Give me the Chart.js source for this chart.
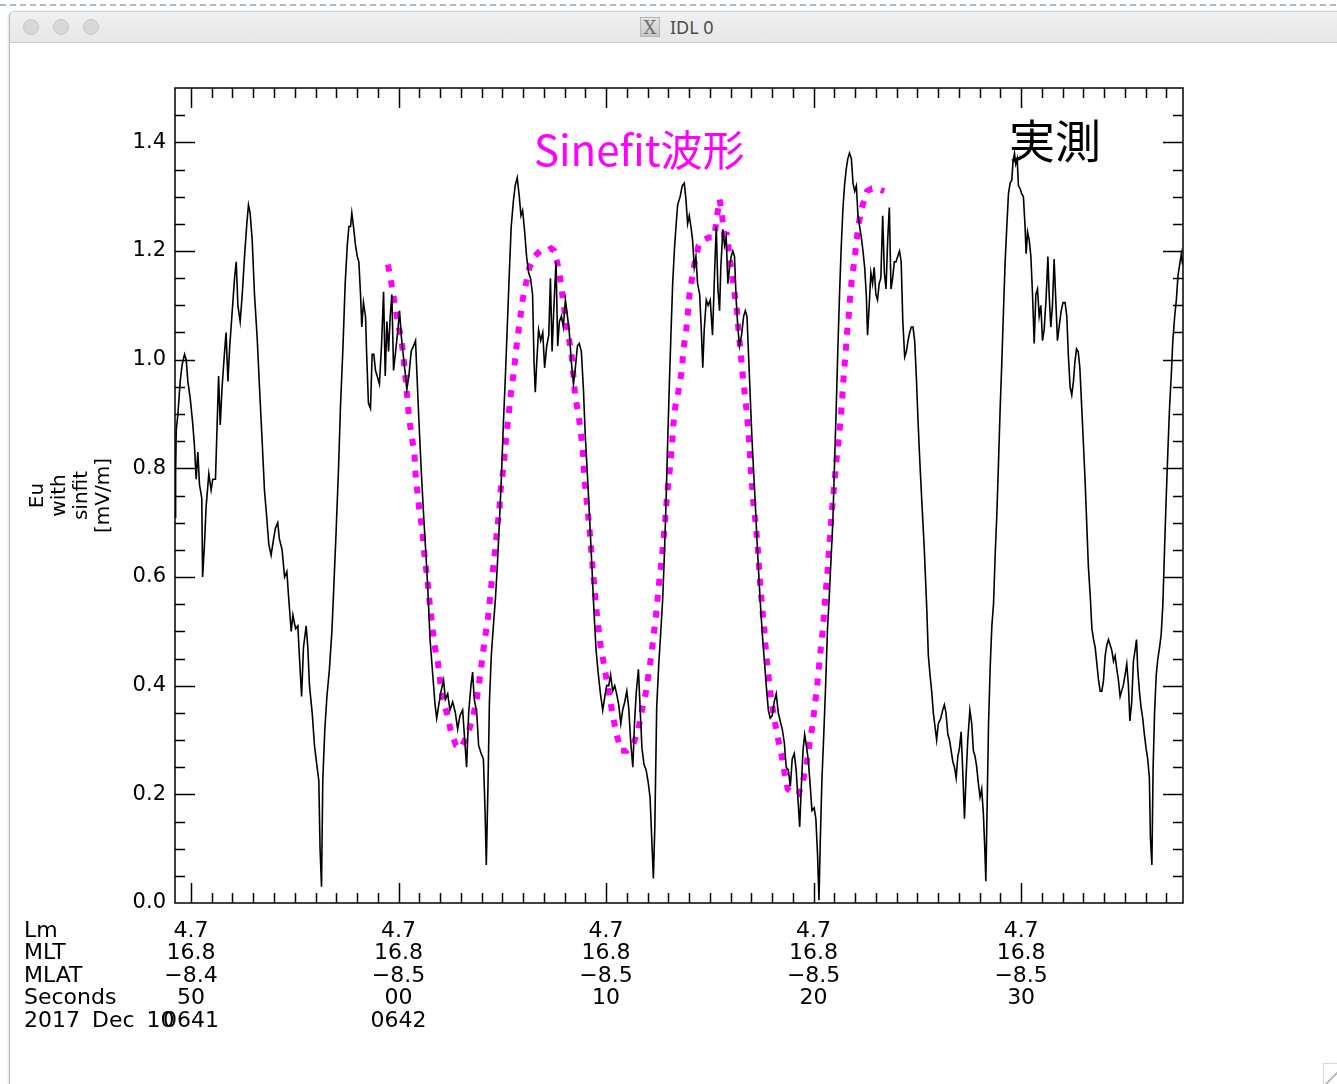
<!DOCTYPE html>
<html>
<head>
<meta charset="utf-8">
<title>IDL 0</title>
<script src="https://cdn.jsdelivr.net/npm/chart.js@4.4.1/dist/chart.umd.min.js"></script>
<style>
  html, body { margin: 0; padding: 0; }
  body { width: 1337px; height: 1084px; overflow: hidden; background: #fff; position: relative; }
  #dash { position: absolute; left: 0; top: 4px; width: 1337px; height: 2px;
    background: repeating-linear-gradient(90deg, #a9bccd 0 6px, transparent 6px 10px); }
  #win { position: absolute; left: 9px; top: 11px; width: 1340px; height: 1090px;
    border-left: 1px solid #b9b9b9; border-top: 1px solid #d0d0d0; border-top-left-radius: 6px;
    background: #fff; box-shadow: -1px 0 2px rgba(0,0,0,0.12); }
  #titlebar { position: absolute; left: 0; top: 0; right: 0; height: 30px;
    background: linear-gradient(#f0f0f0, #e7e7e7); border-bottom: 1px solid #cdcdcd; border-top-left-radius: 6px; }
  .light { position: absolute; top: 7px; width: 16px; height: 16px; border-radius: 50%;
    background: #d8d8d8; border: 1px solid #c6c6c6; box-sizing: border-box; }
  #wtitle { position: absolute; left: 630px; top: 5px; height: 20px; font: 18px "Noto Sans", sans-serif; color: #4b4b4b; line-height: 20px; }
  #xicon { display: inline-block; width: 20px; height: 20px; margin-right: 10px; vertical-align: top;
    background: linear-gradient(#e4e4e4, #c9c9c9); border: 1px solid #b5b5b5; box-sizing: border-box;
    font: 18px "DejaVu Serif", serif; color: #707070; text-align: center; line-height: 19px; }
  #grip { position: absolute; left: 1323px; top: 1063px; width: 16px; height: 22px;
    border-left: 1px solid #d6d6d6; border-top: 1px solid #d6d6d6;
    background: linear-gradient(135deg, transparent 55%, #bdbdbd 55%, #bdbdbd 62%, transparent 62%); }
  canvas#chart { position: absolute; left: 0; top: 0; }
  .note { position: absolute; white-space: nowrap; font-family: "Noto Sans CJK JP", "Noto Sans", sans-serif; }
  #fitNote { left: 534px; top: 127px; font-size: 42px; line-height: 42px; color: #ff00ff; }
  #obsNote { left: 1009px; top: 115px; font-size: 46px; line-height: 46px; color: #000; }
</style>
</head>
<body>
<div id="dash"></div>
<div id="win">
  <div id="titlebar">
    <div class="light" style="left:13px"></div>
    <div class="light" style="left:43px"></div>
    <div class="light" style="left:73px"></div>
    <div id="wtitle"><span id="xicon">X</span>IDL 0</div>
  </div>
</div>
<div id="grip"></div>
<canvas id="chart" width="1337" height="1084"></canvas>
<div class="note" id="fitNote">Sinefit波形</div>
<div class="note" id="obsNote">実測</div>

<script>
// ========== DATA ==========
// seconds after 06:41:00 UT, 2017 Dec 10
const secTicks = [50, 60, 70, 80, 90];
const lmLabels = ["4.7", "4.7", "4.7", "4.7", "4.7"];
const mltLabels = ["16.8", "16.8", "16.8", "16.8", "16.8"];
const mlatLabels = ["\u22128.4", "\u22128.5", "\u22128.5", "\u22128.5", "\u22128.5"];
const secLabels = ["50", "00", "10", "20", "30"];
const hhmmLabels = ["0641", "0642", "", "", ""];
const rowNames = ["Lm", "MLT", "MLAT", "Seconds", "2017 Dec 10"];
const yTicks = [0.0, 0.2, 0.4, 0.6, 0.8, 1.0, 1.2, 1.4];

// measured Eu (black)
const euSec = [
  49.23, 49.26, 49.29, 49.37, 49.48, 49.57, 49.69, 49.77, 49.85, 49.96,
  50.09, 50.17, 50.25, 50.33, 50.41, 50.52, 50.56, 50.65, 50.73, 50.86,
  50.97, 51.05, 51.18, 51.26, 51.33, 51.41, 51.50, 51.61, 51.69, 51.78,
  51.86, 51.97, 52.10, 52.18, 52.26, 52.37, 52.47, 52.58, 52.69, 52.77,
  52.85, 52.95, 53.06, 53.19, 53.30, 53.43, 53.54, 53.65, 53.75, 53.86,
  53.98, 54.07, 54.18, 54.26, 54.39, 54.51, 54.62, 54.71, 54.83, 54.91,
  55.04, 55.15, 55.23, 55.33, 55.42, 55.55, 55.63, 55.71, 55.84, 55.95,
  56.06, 56.16, 56.22, 56.29, 56.35, 56.45, 56.55, 56.67, 56.79, 56.88,
  57.00, 57.11, 57.20, 57.32, 57.43, 57.53, 57.61, 57.69, 57.75, 57.83,
  57.93, 58.01, 58.09, 58.17, 58.23, 58.31, 58.41, 58.47, 58.55, 58.65,
  58.73, 58.81, 58.89, 58.97, 59.08, 59.18, 59.28, 59.36, 59.44, 59.52,
  59.60, 59.68, 59.76, 59.86, 59.97, 60.05, 60.13, 60.21, 60.31, 60.40,
  60.50, 60.61, 60.72, 60.82, 60.88, 60.98, 61.09, 61.20, 61.30,
  61.41, 61.52, 61.65, 61.76, 61.84, 61.94, 62.05, 62.17, 62.26, 62.37,
  62.48, 62.61, 62.74, 62.85, 62.96, 63.09, 63.20, 63.28, 63.38, 63.49,
  63.57, 63.65, 63.77, 63.86, 63.98, 64.09, 64.17, 64.23, 64.31, 64.38,
  64.47, 64.57, 64.67, 64.76, 64.86, 64.96, 65.05, 65.15, 65.24, 65.34,
  65.43, 65.53, 65.62, 65.72, 65.82, 65.90, 65.98, 66.08, 66.17, 66.27,
  66.36, 66.46, 66.53, 66.59, 66.66, 66.75, 66.85, 66.95, 67.04, 67.14,
  67.24, 67.32, 67.40, 67.49, 67.59, 67.67, 67.75, 67.85, 67.94, 68.04,
  68.14, 68.23, 68.33, 68.43, 68.52, 68.62, 68.71, 68.81, 68.91, 69.00,
  69.12, 69.23, 69.33, 69.42, 69.52, 69.63, 69.73, 69.84, 69.94, 70.03,
  70.13, 70.22, 70.32, 70.42, 70.51, 70.61, 70.71, 70.80, 70.90, 71.00,
  71.09, 71.19, 71.29, 71.37, 71.46, 71.56, 71.64, 71.73, 71.83, 71.93,
  72.02, 72.12, 72.20, 72.28, 72.35, 72.44, 72.54, 72.63, 72.73, 72.81,
  72.89, 72.97, 73.05, 73.13, 73.21, 73.29, 73.37, 73.45,
  73.57, 73.67, 73.77, 73.85, 73.93, 74.01, 74.09, 74.17, 74.25, 74.33,
  74.41, 74.51, 74.59, 74.66, 74.73, 74.83, 74.92, 75.02, 75.13, 75.23,
  75.31, 75.39, 75.47, 75.53, 75.63, 75.71, 75.79, 75.87, 75.95, 76.03,
  76.11, 76.19, 76.27, 76.35, 76.43, 76.53, 76.63, 76.71, 76.79, 76.87,
  76.95, 77.03, 77.11, 77.19, 77.27, 77.35, 77.43, 77.53, 77.62, 77.72,
  77.82, 77.91, 78.01, 78.10, 78.20, 78.30, 78.39, 78.49, 78.59, 78.68,
  78.78, 78.88, 78.97, 79.07, 79.16, 79.24, 79.33, 79.41, 79.49, 79.57,
  79.65, 79.74, 79.84, 79.92, 80.03, 80.11, 80.19, 80.26, 80.32, 80.40,
  80.48, 80.58, 80.67, 80.75, 80.85, 80.93, 81.01, 81.09, 81.17, 81.25,
  81.33, 81.41, 81.49, 81.57, 81.65, 81.73, 81.82, 81.90, 81.98, 82.06,
  82.14, 82.22, 82.30, 82.38, 82.46, 82.54, 82.60, 82.68, 82.76, 82.84,
  82.92, 83.00, 83.08, 83.16, 83.24, 83.33, 83.41, 83.49, 83.57, 83.65,
  83.73, 83.81, 83.89, 83.97, 84.05, 84.14, 84.22, 84.30, 84.39, 84.47,
  84.55, 84.63, 84.71, 84.79, 84.87, 84.95, 85.03, 85.11, 85.22, 85.33,
  85.45, 85.53, 85.61, 85.69, 85.77, 85.85, 85.93, 86.01, 86.13, 86.22,
  86.30, 86.38, 86.47, 86.55, 86.63, 86.71, 86.79, 86.87, 86.95, 87.03,
  87.11, 87.19, 87.27, 87.35, 87.43, 87.53, 87.62, 87.70, 87.78, 87.86,
  87.94, 88.02, 88.10, 88.18, 88.25, 88.30, 88.36, 88.43, 88.51, 88.59,
  88.67, 88.75, 88.83, 88.91, 88.99, 89.07, 89.15, 89.23, 89.31, 89.39,
  89.47, 89.55, 89.61, 89.68, 89.74, 89.81, 89.87, 89.95, 90.03, 90.11,
  90.19, 90.24, 90.31, 90.39, 90.47, 90.55, 90.63, 90.71, 90.79, 90.87,
  90.95, 91.03, 91.11, 91.20, 91.29, 91.35, 91.43, 91.51, 91.59, 91.67,
  91.75, 91.83, 91.93, 92.02, 92.12, 92.20, 92.28, 92.36, 92.44, 92.52,
  92.59, 92.67, 92.75, 92.83, 92.91, 92.99, 93.08, 93.16, 93.24, 93.33,
  93.41, 93.49, 93.57, 93.65, 93.73, 93.81, 93.89, 93.97, 94.05, 94.13,
  94.21, 94.29, 94.37, 94.45, 94.53, 94.61, 94.69, 94.77, 94.84, 94.92,
  95.01, 95.09, 95.17, 95.24, 95.33, 95.41, 95.49, 95.56, 95.62, 95.70,
  95.78, 95.86, 95.94, 96.02, 96.10, 96.18, 96.23, 96.30, 96.36, 96.43,
  96.51, 96.59, 96.67, 96.75, 96.83, 96.91, 96.99, 97.07, 97.15, 97.24,
  97.31, 97.40, 97.48, 97.56, 97.64, 97.72, 97.78
];
const euVal = [
  0.71, 0.79, 0.87, 0.90, 0.96, 0.99, 1.01, 1.00, 0.96, 0.93,
  0.88, 0.84, 0.78, 0.83, 0.77, 0.745, 0.60, 0.66, 0.73, 0.79,
  0.76, 0.78, 0.78, 0.88, 0.97, 0.88, 0.95, 1.01, 1.05, 0.96,
  1.02, 1.08, 1.15, 1.18, 1.10, 1.07, 1.12, 1.19, 1.25, 1.285,
  1.27, 1.22, 1.12, 1.04, 0.95, 0.85, 0.76, 0.71, 0.66, 0.64,
  0.67, 0.69, 0.70, 0.67, 0.65, 0.60, 0.61, 0.56, 0.50, 0.53,
  0.505, 0.51, 0.45, 0.38, 0.47, 0.51, 0.47, 0.40, 0.35, 0.29,
  0.255, 0.225, 0.10, 0.03, 0.225, 0.32, 0.38, 0.43, 0.50, 0.58,
  0.69, 0.80, 0.91, 1.02, 1.14, 1.21, 1.245, 1.245, 1.27, 1.245,
  1.21, 1.19, 1.18, 1.12, 1.06, 1.105, 1.08, 1.005, 0.92, 0.91,
  1.01, 1.01, 0.98, 0.97, 0.955, 1.025, 1.125, 0.97, 1.07, 1.015,
  1.08, 1.12, 0.98, 1.015, 1.055, 1.09, 1.045, 1.015, 0.98, 0.945,
  0.97, 1.015, 1.025, 1.035, 0.98, 0.89, 0.80, 0.72, 0.655,
  0.58, 0.485, 0.42, 0.365, 0.34, 0.365, 0.39, 0.41, 0.375, 0.385,
  0.355, 0.37, 0.35, 0.32, 0.345, 0.355, 0.295, 0.25, 0.35, 0.40,
  0.425, 0.375, 0.35, 0.29, 0.275, 0.265, 0.17, 0.07, 0.215, 0.37,
  0.455, 0.51, 0.56, 0.62, 0.70, 0.785, 0.88, 0.97, 1.06, 1.16,
  1.245, 1.29, 1.32, 1.335, 1.30, 1.265, 1.275, 1.235, 1.19, 1.16,
  1.15, 1.12, 0.995, 0.94, 0.995, 1.055, 1.035, 1.05, 0.985, 1.025,
  1.045, 1.15, 1.015, 1.10, 1.18, 1.025, 1.07, 1.08, 1.06, 1.11,
  1.08, 1.05, 0.995, 0.955, 0.985, 1.025, 1.03, 1.015, 0.945, 0.86,
  0.775, 0.69, 0.61, 0.535, 0.465, 0.42, 0.385, 0.355, 0.38, 0.40,
  0.40, 0.42, 0.39, 0.40, 0.385, 0.365, 0.33, 0.355, 0.37, 0.39,
  0.36, 0.295, 0.25, 0.33, 0.39, 0.43, 0.36, 0.285, 0.255, 0.245,
  0.225, 0.195, 0.12, 0.045, 0.14, 0.36, 0.44, 0.495, 0.56, 0.64,
  0.735, 0.85, 0.955, 1.05, 1.14, 1.20, 1.245, 1.285,
  1.30, 1.32, 1.325, 1.295, 1.25, 1.265, 1.245, 1.22, 1.17, 1.19,
  1.14, 1.12, 1.055, 0.985, 1.055, 1.11, 1.10, 1.11, 1.045, 1.16,
  1.245, 1.13, 1.09, 1.17, 1.24, 1.21, 1.225, 1.14, 1.17, 1.19,
  1.20, 1.19, 1.11, 1.06, 1.025, 1.045, 1.08, 1.09, 1.08, 1.005,
  0.93, 0.855, 0.795, 0.735, 0.67, 0.61, 0.555, 0.495, 0.45, 0.40,
  0.355, 0.34, 0.345, 0.37, 0.385, 0.35, 0.335, 0.32, 0.295, 0.25,
  0.245, 0.215, 0.265, 0.275, 0.245, 0.195, 0.14, 0.215, 0.28, 0.31,
  0.29, 0.265, 0.215, 0.17, 0.175, 0.155, 0.09, 0.005, 0.11, 0.225,
  0.30, 0.40, 0.505, 0.56, 0.64, 0.705, 0.81, 0.91, 1.02, 1.12,
  1.205, 1.275, 1.32, 1.35, 1.37, 1.38, 1.37, 1.325, 1.31, 1.32,
  1.265, 1.245, 1.225, 1.20, 1.17, 1.12, 1.045, 1.10, 1.16, 1.14,
  1.17, 1.12, 1.11, 1.14, 1.15, 1.265, 1.16, 1.13, 1.22, 1.28,
  1.13, 1.15, 1.18, 1.18, 1.19, 1.20, 1.18, 1.07, 1.005, 1.015,
  1.035, 1.05, 1.06, 1.06, 1.035, 0.97, 0.89, 0.82, 0.735, 0.655,
  0.545, 0.455, 0.42, 0.39, 0.35, 0.325, 0.30, 0.33, 0.34, 0.355,
  0.365, 0.35, 0.31, 0.30, 0.28, 0.26, 0.25, 0.23, 0.27, 0.285,
  0.315, 0.24, 0.155, 0.235, 0.30, 0.355, 0.33, 0.28, 0.27, 0.25,
  0.22, 0.195, 0.21, 0.165, 0.10, 0.04, 0.175, 0.33, 0.435, 0.51,
  0.55, 0.64, 0.715, 0.81, 0.91, 0.995, 1.09, 1.18, 1.245, 1.305,
  1.325, 1.33, 1.365, 1.38, 1.36, 1.37, 1.32, 1.315, 1.305, 1.30,
  1.245, 1.195, 1.235, 1.22, 1.19, 1.12, 1.03, 1.12, 1.13, 1.08,
  1.10, 1.035, 1.055, 1.11, 1.19, 1.12, 1.06, 1.10, 1.185, 1.11,
  1.035, 1.06, 1.09, 1.105, 1.105, 1.08, 1.005, 0.95, 0.935, 0.96,
  0.995, 1.02, 1.015, 0.985, 0.92, 0.855, 0.78, 0.70, 0.62, 0.565,
  0.505, 0.485, 0.47, 0.44, 0.41, 0.39, 0.39, 0.41, 0.455, 0.475,
  0.485, 0.475, 0.465, 0.445, 0.455, 0.43, 0.41, 0.38, 0.39, 0.40,
  0.42, 0.44, 0.40, 0.335, 0.37, 0.445, 0.465, 0.485, 0.43, 0.39,
  0.36, 0.34, 0.31, 0.285, 0.265, 0.23, 0.12, 0.07, 0.25, 0.35,
  0.42, 0.45, 0.47, 0.495, 0.55, 0.65, 0.745, 0.83, 0.91, 0.975,
  1.035, 1.08, 1.11, 1.155, 1.175, 1.195, 1.175
];

// sine fit (magenta dotted)
const fitSec = [
  59.49, 59.68, 59.81, 59.98, 60.13, 60.24, 60.34, 60.42, 60.50, 60.63,
  60.76, 60.82, 60.90, 61.01, 61.14, 61.22, 61.33, 61.43, 61.52, 61.61,
  61.73, 61.89, 62.00, 62.13, 62.32, 62.53, 62.77, 63.01, 63.33, 63.57,
  63.77, 63.90, 64.02, 64.15, 64.28, 64.38, 64.47, 64.57, 64.67, 64.76,
  64.86, 64.92, 65.02, 65.12, 65.21, 65.31, 65.42, 65.53, 65.63, 65.73,
  65.86, 65.98, 66.14, 66.31, 66.55, 66.82, 67.11, 67.35, 67.51, 67.67,
  67.83, 67.94, 68.07, 68.23, 68.35, 68.44, 68.52, 68.67, 68.80, 68.88,
  68.94, 69.04, 69.12, 69.20, 69.28, 69.36, 69.44, 69.52, 69.61, 69.73,
  69.87, 70.03, 70.19, 70.35, 70.51, 70.72, 71.00, 71.29, 71.53, 71.73,
  71.93, 72.06, 72.18, 72.28, 72.38, 72.47, 72.57, 72.67, 72.76, 72.84,
  72.92, 72.99, 73.08, 73.18, 73.24, 73.34, 73.50, 73.65, 73.73, 73.85,
  73.94, 74.02, 74.14, 74.30, 74.46, 74.70, 74.94, 75.21, 75.37, 75.47,
  75.58, 75.69, 75.82, 75.95, 76.06, 76.18, 76.31, 76.39, 76.47, 76.55,
  76.66, 76.76, 76.84, 76.91, 76.97, 77.03, 77.11, 77.22, 77.30, 77.37,
  77.43, 77.51, 77.59, 77.67, 77.75, 77.85, 77.96, 78.10, 78.27, 78.47,
  78.60, 78.75, 79.04, 79.28, 79.52, 79.68, 79.81, 79.94, 80.05, 80.16,
  80.26, 80.35, 80.45, 80.53, 80.59, 80.67, 80.74, 80.80, 80.88, 80.96,
  81.04, 81.14, 81.24, 81.32, 81.40, 81.46, 81.54, 81.61, 81.69, 81.77,
  81.86, 81.96, 82.06, 82.17, 82.33, 82.57, 82.81, 83.05, 83.40
];
const fitVal = [
  1.175, 1.135, 1.105, 1.065, 1.04, 1.005, 0.965, 0.93, 0.895, 0.86,
  0.83, 0.79, 0.76, 0.72, 0.69, 0.65, 0.615, 0.58, 0.545, 0.515,
  0.475, 0.445, 0.41, 0.375, 0.35, 0.315, 0.29, 0.285, 0.31, 0.34,
  0.375, 0.41, 0.445, 0.485, 0.515, 0.55, 0.585, 0.62, 0.655, 0.69,
  0.725, 0.76, 0.79, 0.83, 0.865, 0.90, 0.94, 0.97, 1.005, 1.04,
  1.075, 1.11, 1.14, 1.17, 1.19, 1.20, 1.20, 1.205, 1.20, 1.175,
  1.14, 1.105, 1.07, 1.035, 1.005, 0.965, 0.93, 0.90, 0.86, 0.83,
  0.79, 0.75, 0.72, 0.69, 0.65, 0.615, 0.58, 0.545, 0.515, 0.475,
  0.445, 0.41, 0.375, 0.34, 0.31, 0.28, 0.28, 0.29, 0.315, 0.355,
  0.39, 0.425, 0.455, 0.49, 0.52, 0.555, 0.595, 0.63, 0.665, 0.70,
  0.74, 0.77, 0.80, 0.845, 0.88, 0.915, 0.945, 0.98, 1.02, 1.05,
  1.085, 1.12, 1.15, 1.185, 1.21, 1.22, 1.225, 1.225, 1.27, 1.295,
  1.27, 1.23, 1.23, 1.19, 1.16, 1.125, 1.09, 1.05, 1.02, 0.985,
  0.945, 0.91, 0.875, 0.84, 0.80, 0.77, 0.73, 0.695, 0.66, 0.62,
  0.585, 0.55, 0.515, 0.48, 0.445, 0.41, 0.375, 0.34, 0.305, 0.27,
  0.24, 0.21, 0.20, 0.20, 0.23, 0.26, 0.295, 0.325, 0.36, 0.395,
  0.435, 0.47, 0.505, 0.545, 0.575, 0.61, 0.65, 0.68, 0.72, 0.755,
  0.79, 0.83, 0.865, 0.90, 0.94, 0.975, 1.01, 1.05, 1.08, 1.12,
  1.155, 1.18, 1.215, 1.25, 1.28, 1.31, 1.315, 1.315, 1.31
];

const FONT = '"DejaVu Sans", sans-serif';
const X_PAD = 16.75;
const X_LINE = 22.5;

// ========== PLUGINS ==========
// IDL style box with inward ticks on all four sides
const idlBox = {
  id: "idlBox",
  afterDatasetsDraw(chart) {
    const { ctx, chartArea: a } = chart;
    const xs = chart.scales.x;
    const ys = chart.scales.y;
    ctx.save();
    ctx.strokeStyle = "#000";
    ctx.lineWidth = 1.5;
    ctx.beginPath();
    for (let s = Math.ceil(xs.min); s <= xs.max; s++) {
      const px = Math.round(xs.getPixelForValue(s)) + 0.5;
      const len = s % 10 === 0 ? 20 : 10;
      ctx.moveTo(px, a.bottom);
      ctx.lineTo(px, a.bottom - len);
      ctx.moveTo(px, a.top);
      ctx.lineTo(px, a.top + len);
    }
    for (let k = 1; k * 0.05 < ys.max - 1e-6; k++) {
      const py = Math.round(ys.getPixelForValue(k * 0.05)) + 0.5;
      const len = k % 4 === 0 ? 20 : 10;
      ctx.moveTo(a.left, py);
      ctx.lineTo(a.left + len, py);
      ctx.moveTo(a.right, py);
      ctx.lineTo(a.right - len, py);
    }
    ctx.stroke();
    ctx.strokeRect(a.left, a.top, a.right - a.left, a.bottom - a.top);
    ctx.restore();
  },
  afterDraw(chart) {
    // row names of the multi-line x axis annotation
    const { ctx } = chart;
    const xs = chart.scales.x;
    ctx.save();
    ctx.fillStyle = "#000";
    ctx.font = "22px " + FONT;
    ctx.textAlign = "left";
    ctx.textBaseline = "middle";
    rowNames.forEach((name, i) => {
      // the date row is drawn with wide word gaps, like IDL does
      ctx.wordSpacing = i === rowNames.length - 1 ? "5px" : "0px";
      ctx.fillText(name, 24, xs.top + X_PAD + X_LINE / 2 + i * X_LINE);
    });
    ctx.restore();
  },
};

// ========== CHART ==========
new Chart(document.getElementById("chart"), {
  type: "line",
  data: {
    datasets: [
      {
        label: "Eu",
        data: euSec.map((s, i) => ({ x: s, y: euVal[i] })),
        borderColor: "#000",
        borderWidth: 1.6,
        pointRadius: 0,
        tension: 0,
      },
      {
        label: "sinfit",
        data: fitSec.map((s, i) => ({ x: s, y: fitVal[i] })),
        borderColor: "#ff00ff",
        borderWidth: 6,
        borderDash: [7, 9],
        borderCapStyle: "butt",
        pointRadius: 0,
        tension: 0,
      },
    ],
  },
  options: {
    responsive: false,
    animation: false,
    events: [],
    layout: { padding: { left: 0, right: 154, top: 88, bottom: 0 } },
    plugins: { legend: { display: false }, tooltip: { enabled: false } },
    scales: {
      x: {
        type: "linear",
        min: 49.23,
        max: 97.8,
        grid: { display: false, drawTicks: false },
        border: { display: false },
        afterBuildTicks: (s) => {
          s.ticks = secTicks.map((v) => ({ value: v }));
        },
        afterFit: (s) => {
          s.height = 181;
        },
        ticks: {
          autoSkip: false,
          maxRotation: 0,
          padding: X_PAD,
          color: "#000",
          font: { family: FONT, size: 22, lineHeight: X_LINE + "px" },
          callback: (v, i) => [lmLabels[i], mltLabels[i], mlatLabels[i], secLabels[i], hhmmLabels[i]],
        },
      },
      y: {
        min: 0,
        max: 1.5,
        grid: { display: false, drawTicks: false },
        border: { display: false },
        afterBuildTicks: (s) => {
          s.ticks = yTicks.map((v) => ({ value: v }));
        },
        afterFit: (s) => {
          s.width = 175;
        },
        ticks: {
          padding: 9,
          color: "#000",
          font: { family: FONT, size: 21 },
          callback: (v) => v.toFixed(1),
        },
        title: {
          display: true,
          text: ["Eu", "with", "sinfit", "[mV/m]"],
          color: "#000",
          font: { family: FONT, size: 20, lineHeight: 1.1 },
          padding: { top: 27, bottom: 0 },
        },
      },
    },
  },
  plugins: [idlBox],
});
</script>
</body>
</html>
